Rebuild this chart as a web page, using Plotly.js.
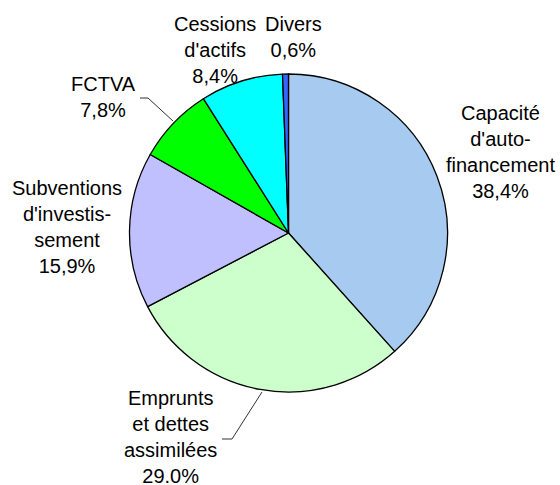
<!DOCTYPE html>
<html>
<head>
<meta charset="utf-8">
<script src="https://cdn.plot.ly/plotly-3.0.1.min.js"></script>
<style>
  html, body { margin: 0; padding: 0; background: #fff; }
  #chart { width: 560px; height: 485px; }
</style>
</head>
<body>
<div id="chart"></div>
<script>
const labels = ['Capacité d\'auto-financement', 'Emprunts et dettes assimilées', 'Subventions d\'investis-sement', 'FCTVA', 'Cessions d\'actifs', 'Divers'];
const labelLines = [
    ['Capacité', 'd\'auto-', 'financement'],
    ['Emprunts', 'et dettes', 'assimilées'],
    ['Subventions', 'd\'investis-', 'sement'],
    ['FCTVA'],
    ['Cessions', 'd\'actifs'],
    ['Divers']
];
const values = [38.4, 29.0, 15.9, 7.8, 8.4, 0.6];
const valueText = ['38,4%', '29.0%', '15,9%', '7,8%', '8,4%', '0,6%'];
const colors = ['#A6CAF0', '#CCFFCC', '#C0C0FF', '#00FF00', '#00FFFF', '#3366FF'];

const W = 560, H = 485;

// label block centres, in pixels
const labelPos = [
    [500, 152],
    [170, 437],
    [67, 227],
    [103, 97],
    [215, 50],
    [293, 37]
];

function px(x) { return x / W; }
function py(y) { return 1 - y / H; }

let annotations = [];
for (let i = 0; i < labels.length; i++) {
    annotations.push({
        xref: 'paper',
        yref: 'paper',
        x: px(labelPos[i][0]),
        y: py(labelPos[i][1]),
        xanchor: 'center',
        yanchor: 'middle',
        align: 'center',
        showarrow: false,
        text: labelLines[i].concat([valueText[i]]).join('<br>'),
        font: { family: 'Liberation Sans, Arial, sans-serif', size: 20, color: '#000' }
    });
}

// leader lines (FCTVA, Emprunts)
const leaders = [
    [[140, 98], [148, 98], [173, 121]],
    [[222, 439], [232, 439], [262, 392]]
];
let shapes = leaders.map(function (pts) {
    let path = pts.map(function (p, k) {
        return (k === 0 ? 'M ' : ' L ') + px(p[0]) + ',' + py(p[1]);
    }).join('');
    return {
        type: 'path',
        xref: 'paper',
        yref: 'paper',
        path: path,
        line: { color: '#333', width: 1 }
    };
});

const cx = 288.5, cy = 233, r = 159;

let data = [{
    type: 'pie',
    labels: labels,
    values: values,
    sort: false,
    direction: 'clockwise',
    rotation: 0,
    textinfo: 'none',
    hoverinfo: 'label+percent',
    marker: { colors: colors, line: { color: '#000', width: 1.3 } },
    domain: {
        x: [px(cx - r), px(cx + r)],
        y: [py(cy + r), py(cy - r)]
    }
}];

let layout = {
    width: W,
    height: H,
    margin: { l: 0, r: 0, t: 0, b: 0 },
    showlegend: false,
    paper_bgcolor: '#fff',
    annotations: annotations,
    shapes: shapes
};

Plotly.newPlot('chart', data, layout, { displayModeBar: false, staticPlot: true });
</script>
</body>
</html>
